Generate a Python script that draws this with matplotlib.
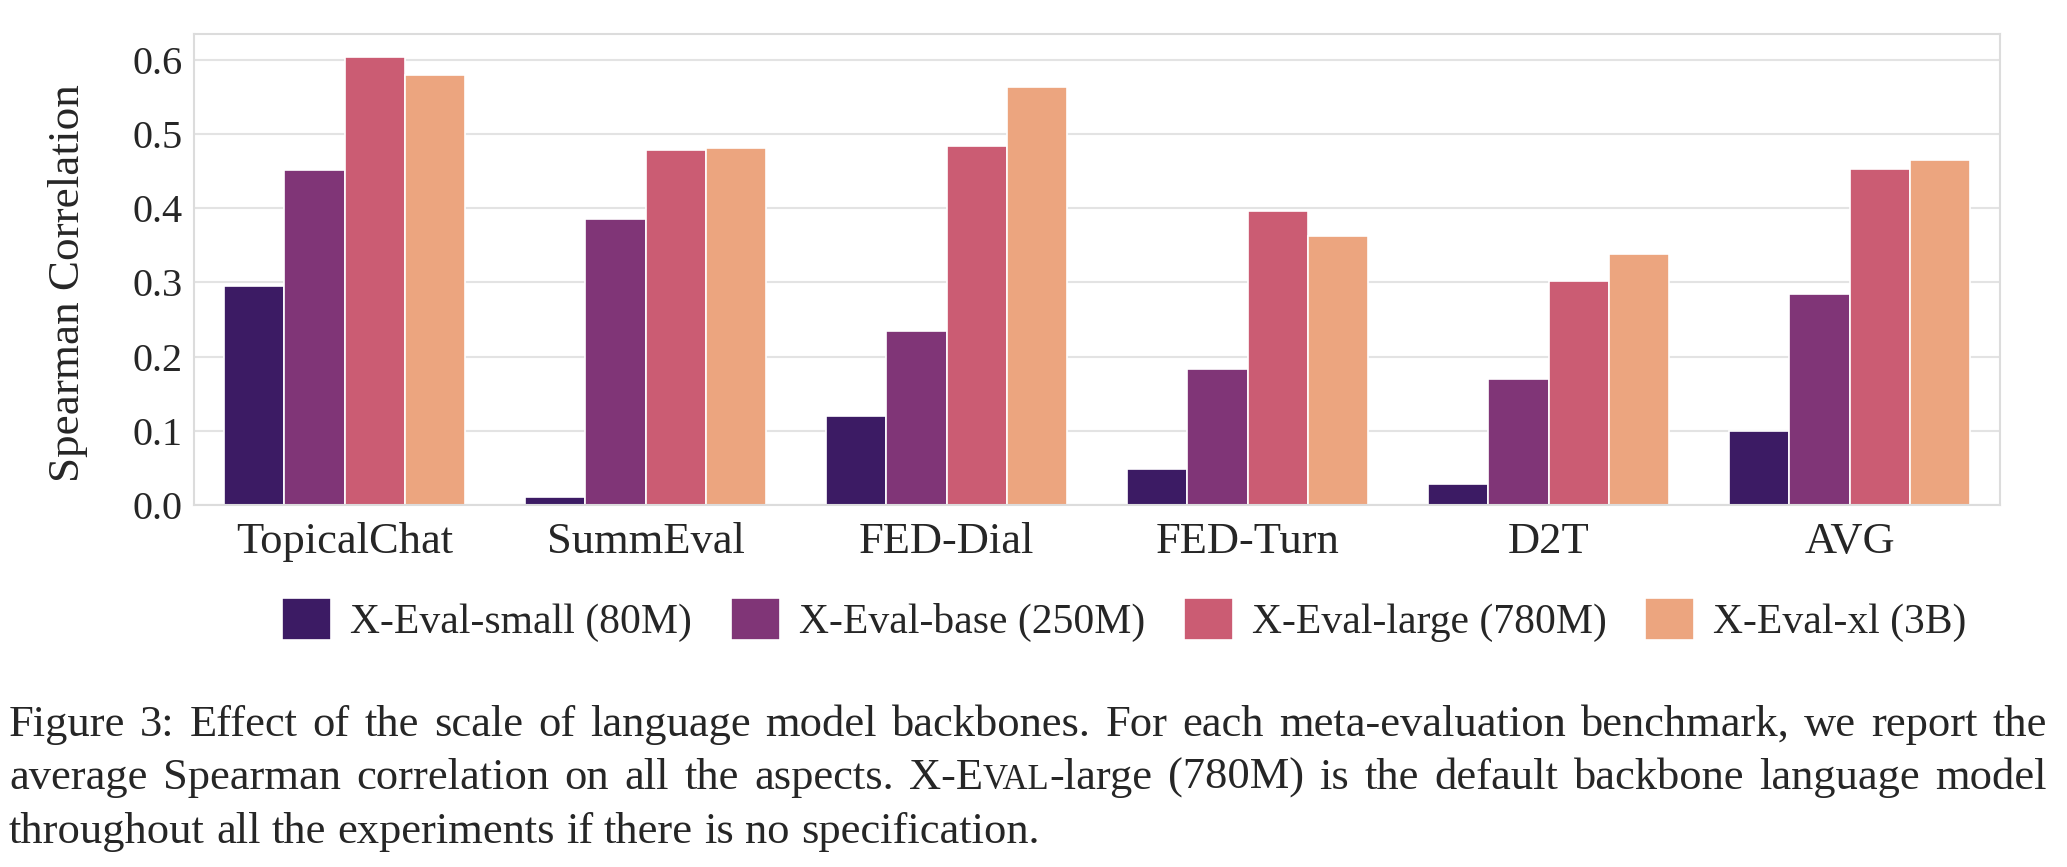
import numpy as np
import matplotlib
matplotlib.use("Agg")
import matplotlib.pyplot as plt
import matplotlib.transforms as mtransforms
import seaborn as sns

categories = ["TopicalChat", "SummEval", "FED-Dial", "FED-Turn", "D2T", "AVG"]
models = ["X-Eval-small (80M)", "X-Eval-base (250M)", "X-Eval-large (780M)", "X-Eval-xl (3B)"]
small = [0.295, 0.011, 0.120, 0.048, 0.028, 0.100]
base = [0.452, 0.385, 0.235, 0.183, 0.170, 0.285]
large = [0.604, 0.479, 0.484, 0.396, 0.302, 0.453]
xl = [0.580, 0.481, 0.564, 0.362, 0.338, 0.465]
series = [small, base, large, xl]

# caption lines; text between | | is set in small caps
caption = [
    "Figure 3: Effect of the scale of language model backbones. For each meta-evaluation benchmark, we report the",
    "average Spearman correlation on all the aspects. X-E|VAL|-large (780M) is the default backbone language model",
    "throughout all the experiments if there is no specification.",
]

sns.set_style("whitegrid")
plt.rcParams["font.family"] = ["Liberation Serif", "DejaVu Serif"]

W, H, DPI = 2067, 867, 100
fig = plt.figure(figsize=(W / DPI, H / DPI), dpi=DPI)
ax = fig.add_axes([0.0939, 0.4175, 0.8737, 0.5433])

colors = sns.color_palette("magma", 4, desat=0.75)
x = np.arange(len(categories))
bw = 0.2
for i, vals in enumerate(series):
    ax.bar(x - 0.3 + i * bw, vals, width=bw, color=colors[i], edgecolor="white",
           linewidth=1.2, label=models[i], zorder=2)

ax.set_xlim(-0.5, len(categories) - 0.5)
ax.set_ylim(0, 0.635)
yt = np.arange(0, 0.61, 0.1)
ax.set_yticks(yt)
ax.set_yticklabels([f"{v:.1f}" for v in yt])
ax.set_xticks(x)
ax.set_xticklabels(categories)
ax.tick_params(axis="x", labelsize=32, length=0, pad=12)
ax.tick_params(axis="y", labelsize=29, length=0, pad=8)
ax.set_ylabel("Spearman Correlation", fontsize=32.5)
ax.yaxis.set_label_coords(-0.0587, 0.472)
ax.grid(axis="x", visible=False)
ax.grid(axis="y", color="#e3e3e3", linewidth=1.5)
for s in ax.spines.values():
    s.set_color("#dcdcdc")
    s.set_linewidth(1.5)

fig.legend(loc="center", bbox_to_anchor=(0.544, 0.285), ncol=4, frameon=False,
           fontsize=30, handlelength=1.18, handleheight=1.18, handletextpad=0.46,
           columnspacing=0.92)

# caption, justified like the paper
cap_fs = 32
renderer = fig.canvas.get_renderer()
ident = mtransforms.IdentityTransform()


def put_line(line, y, x0, x1, justify):
    items = []
    total = 0
    for w in line.split(" "):
        arts = []
        for k, part in enumerate(w.split("|")):
            if not part:
                continue
            sc = 0.78 if k % 2 == 1 else 1.0
            t = fig.text(0, y, part, fontsize=cap_fs * sc, transform=ident, va="baseline")
            wd = t.get_window_extent(renderer).width
            arts.append((t, wd))
            total += wd
        items.append(arts)
    if justify:
        gap = (x1 - x0 - total) / (len(items) - 1)
    else:
        gap = 0.25 * cap_fs * DPI / 72
    xp = x0
    for arts in items:
        for t, wd in arts:
            t.set_position((xp, y))
            xp += wd
        xp += gap


put_line(caption[0], 131, 9, 2047, True)
put_line(caption[1], 78, 9, 2047, True)
put_line(caption[2], 24, 9, 2047, False)

fig.savefig("out.png", dpi=DPI)
